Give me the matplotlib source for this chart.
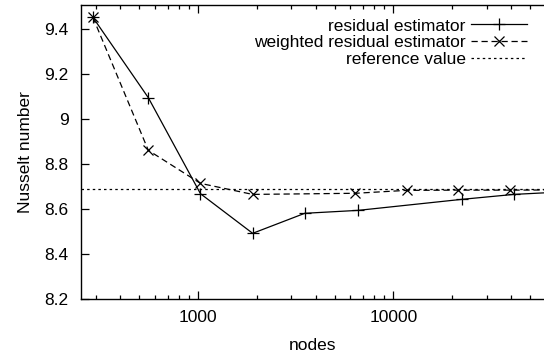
import matplotlib
matplotlib.use("Agg")
import matplotlib.pyplot as plt
from matplotlib.ticker import FixedLocator, LogLocator, NullFormatter, FuncFormatter

plt.rcParams['font.family'] = ['Liberation Sans', 'DejaVu Sans']
plt.rcParams['font.size'] = 12.5

# residual estimator
res_nodes = [290, 557, 1030, 1905, 3520, 6600, 22400, 41400, 77000]
res_nu = [9.452, 9.095, 8.668, 8.492, 8.581, 8.594, 8.643, 8.665, 8.677]

# weighted residual estimator
wres_nodes = [290, 557, 1030, 1905, 6400, 11700, 21400, 39700, 75000]
wres_nu = [9.452, 8.861, 8.714, 8.665, 8.670, 8.683, 8.684, 8.684, 8.685]

ref_value = 8.688

y_ticks = [8.2, 8.4, 8.6, 8.8, 9.0, 9.2, 9.4]
x_ticks = [1000, 10000]

fig = plt.figure(figsize=(5.44, 3.58), dpi=100)
ax = fig.add_axes([81 / 544, 1 - 299 / 358, 1 - 81 / 544, 294 / 358])

lw = 0.9
ax.plot(res_nodes, res_nu, c="k", lw=lw, marker="+", ms=8, mew=lw,
        label="residual estimator")
ax.plot(wres_nodes, wres_nu, c="k", lw=lw, ls=(0, (5, 3)), marker="x", ms=6.5,
        mew=lw, label="weighted residual estimator")
ax.axhline(ref_value, c="k", lw=lw, ls=(0, (2, 2.5)), label="reference value")

ax.set_xscale("log")
ax.set_xlim(252, 59000)
ax.set_ylim(8.2, 9.507)

ax.xaxis.set_major_locator(FixedLocator(x_ticks))
ax.xaxis.set_major_formatter(FuncFormatter(lambda v, p: "%d" % v))
ax.xaxis.set_minor_locator(LogLocator(base=10, subs=range(2, 10)))
ax.xaxis.set_minor_formatter(NullFormatter())
ax.yaxis.set_major_locator(FixedLocator(y_ticks))
ax.yaxis.set_major_formatter(FuncFormatter(lambda v, p: "%g" % round(v, 1)))

ax.tick_params(which="both", direction="in", top=True, right=False, width=0.9)
ax.tick_params(which="major", length=5.5)
ax.tick_params(which="minor", length=3)
ax.tick_params(axis="y", pad=9)
ax.tick_params(axis="x", pad=8)
ax.spines["right"].set_visible(False)
for s in ["left", "top", "bottom"]:
    ax.spines[s].set_linewidth(1.0)

ax.set_xlabel("nodes", labelpad=9)
ax.set_ylabel("Nusselt number", labelpad=8)

leg = ax.legend(loc="upper right", bbox_to_anchor=(0.985, 0.99), frameon=False,
                markerfirst=False, handlelength=3.2, handletextpad=0.3,
                labelspacing=0.1, borderaxespad=0.2)

fig.savefig("out.png", dpi=100)
